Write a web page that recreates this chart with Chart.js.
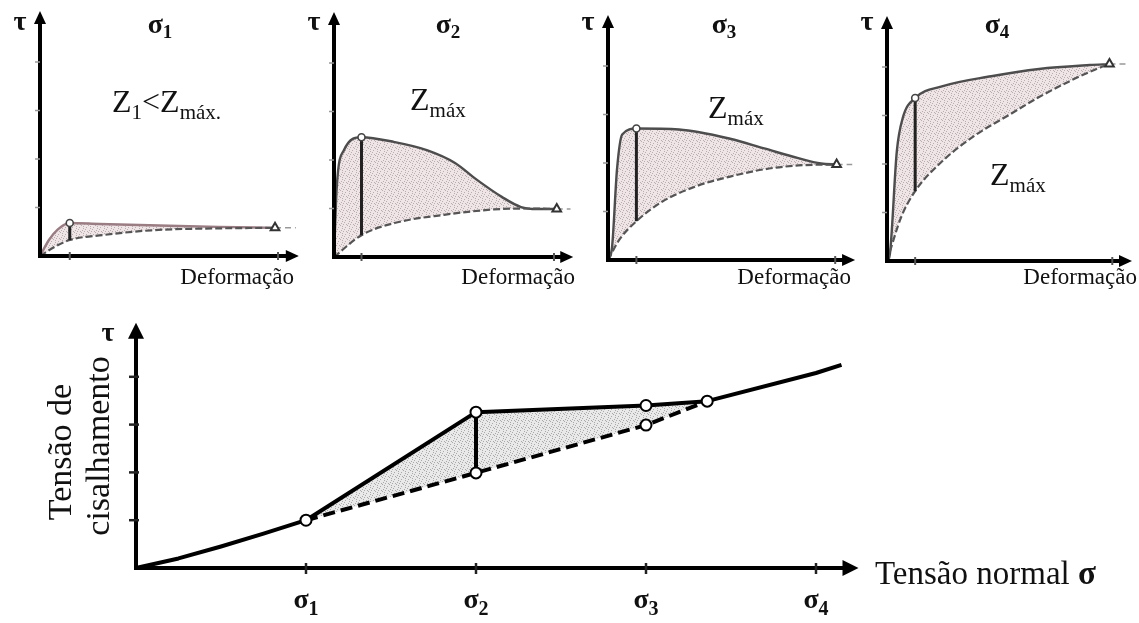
<!DOCTYPE html>
<html>
<head>
<meta charset="utf-8">
<script src="https://cdn.jsdelivr.net/npm/chart.js@4.4.1/dist/chart.umd.min.js"></script>
<style>
  html, body { margin: 0; padding: 0; background: #fff; }
  #wrap { position: relative; width: 1139px; height: 623px; overflow: hidden; background: #fff; }
  #wrap canvas { position: absolute; left: 0; top: 0; }
</style>
</head>
<body>
<div id="wrap"></div>
<script>
// ---------- data ----------
// shear-stress / deformation curves of the four tests (deformation units, τ units)
const DEF_TICKS = [1, 8];            // marked deformations: peak and large strain
const TAU_TICKS = [1, 2, 3, 4];
const PEAK_STRAIN = 1;

const S1_PEAK  = [{x:0,y:0},{x:0.3,y:0.33},{x:0.6,y:0.55},{x:1,y:0.68},{x:2,y:0.66},{x:4,y:0.63},{x:6,y:0.6},{x:7.9,y:0.58}];
const S1_RESID = [{x:0,y:0},{x:0.5,y:0.19},{x:1,y:0.33},{x:2.1,y:0.43},{x:3.75,y:0.53},{x:6,y:0.57},{x:7.9,y:0.58}];

const S2_PEAK  = [{x:0,y:0},{x:0.1,y:1.44},{x:0.36,y:2.2},{x:1,y:2.47},{x:2.2,y:2.37},{x:3.4,y:2.2},{x:4.4,y:1.94},{x:5.2,y:1.59},{x:6.1,y:1.24},{x:6.8,y:1.03},{x:7.4,y:0.99},{x:8.1,y:0.99}];
const S2_RESID = [{x:0,y:0},{x:1,y:0.45},{x:2.2,y:0.7},{x:4,y:0.87},{x:5.8,y:0.98},{x:7,y:1.0},{x:8.1,y:0.99}];

const S3_PEAK  = [{x:0,y:0},{x:0.14,y:0.25},{x:0.32,y:1.89},{x:0.5,y:2.59},{x:1,y:2.71},{x:2.5,y:2.69},{x:4.3,y:2.5},{x:5.5,y:2.3},{x:6.7,y:2.1},{x:7.5,y:1.99},{x:8.05,y:1.97}];
const S3_RESID = [{x:0,y:0},{x:0.4,y:0.42},{x:1,y:0.8},{x:1.9,y:1.2},{x:3.1,y:1.52},{x:4.3,y:1.72},{x:5.5,y:1.87},{x:6.7,y:1.95},{x:8.05,y:1.97}];

const S4_PEAK  = [{x:0,y:0},{x:0.1,y:0.14},{x:0.35,y:2.27},{x:0.56,y:2.95},{x:1,y:3.36},{x:1.95,y:3.6},{x:3.7,y:3.81},{x:5.4,y:3.96},{x:7.2,y:4.04},{x:7.9,y:4.06}];
const S4_RESID = [{x:0,y:0},{x:0.5,y:0.9},{x:1,y:1.44},{x:1.95,y:2.05},{x:3.1,y:2.58},{x:4.3,y:3.0},{x:5.4,y:3.38},{x:6.6,y:3.74},{x:7.4,y:3.95},{x:7.9,y:4.06}];

// strength envelopes (normal stress σ, shear stress τ)
const SIGMA_TICKS  = [1, 2, 3, 4];
const SIGMA_LABELS = ['σ1', 'σ2', 'σ3', 'σ4'];
const ENV_X        = [0, 0.25, 0.5, 0.75, 1, 2, 3, 3.36, 4, 4.15];
const ENV_PEAK_Y   = [0, 0.2, 0.45, 0.72, 1, 3.26, 3.40, 3.49, 4.08, 4.25];
const ENV_RESID_X  = [1, 2, 3, 3.36];
const ENV_RESID_Y  = [1, 1.99, 2.99, 3.49];

// ---------- drawing helpers ----------
const W = 1139, H = 623;
const SERIF = '"Liberation Serif","Times New Roman",serif';
const wrap = document.getElementById('wrap');

function newCanvas() {
  const cv = document.createElement('canvas');
  cv.width = W; cv.height = H;
  cv.style.width = W + 'px'; cv.style.height = H + 'px';
  wrap.appendChild(cv);
  return cv.getContext('2d');
}

function stipple(ctx, base, dot) {
  const c = document.createElement('canvas');
  c.width = 7; c.height = 7;
  const g = c.getContext('2d');
  g.fillStyle = base; g.fillRect(0, 0, 7, 7);
  g.fillStyle = dot;
  [[0,0],[4,1],[2,3],[6,4],[1,5],[5,6],[3,0],[6,2]].forEach(([px, py]) => g.fillRect(px, py, 1, 1));
  return ctx.createPattern(c, 'repeat');
}

// draws a run of text pieces: [text, font, dy]
function drawRuns(ctx, runs, x, y, align) {
  let total = 0;
  runs.forEach(r => { ctx.font = r[1]; total += ctx.measureText(r[0]).width; });
  let cx = align === 'center' ? x - total / 2 : (align === 'right' ? x - total : x);
  ctx.textAlign = 'left';
  ctx.textBaseline = 'alphabetic';
  runs.forEach(r => {
    ctx.font = r[1];
    ctx.fillText(r[0], cx, y + (r[2] || 0));
    cx += ctx.measureText(r[0]).width;
  });
}

function subLabel(label, mainFont, subFont, dy) {
  return [[label.charAt(0), mainFont, 0], [label.slice(1), subFont, dy]];
}

function axesPlugin(cfg) {
  return {
    id: 'arrowAxes',
    afterDatasetsDraw(chart) {
      const { ctx, chartArea: a, scales: { x, y } } = chart;
      ctx.save();
      ctx.strokeStyle = '#000';
      ctx.fillStyle = '#000';
      ctx.lineWidth = cfg.width;
      ctx.lineJoin = 'miter';
      ctx.lineCap = 'square';
      ctx.beginPath();
      ctx.moveTo(a.left, a.top + cfg.head - 1);
      ctx.lineTo(a.left, a.bottom);
      ctx.lineTo(a.right - cfg.head + 1, a.bottom);
      ctx.stroke();
      // arrowheads
      ctx.beginPath();
      ctx.moveTo(a.left, a.top);
      ctx.lineTo(a.left - cfg.half, a.top + cfg.head);
      ctx.lineTo(a.left + cfg.half, a.top + cfg.head);
      ctx.closePath();
      ctx.fill();
      ctx.beginPath();
      ctx.moveTo(a.right, a.bottom);
      ctx.lineTo(a.right - cfg.head, a.bottom - cfg.half);
      ctx.lineTo(a.right - cfg.head, a.bottom + cfg.half);
      ctx.closePath();
      ctx.fill();
      // tick marks
      ctx.lineCap = 'butt';
      ctx.strokeStyle = cfg.xTickColor;
      ctx.lineWidth = cfg.xTickWidth;
      cfg.xTicks.forEach(v => {
        const px = x.getPixelForValue(v);
        ctx.beginPath();
        ctx.moveTo(px, a.bottom - cfg.xTickUp);
        ctx.lineTo(px, a.bottom + cfg.xTickDown);
        ctx.stroke();
      });
      ctx.strokeStyle = cfg.yTickColor;
      ctx.lineWidth = cfg.yTickWidth;
      cfg.yTicks.forEach(v => {
        const py = y.getPixelForValue(v);
        ctx.beginPath();
        ctx.moveTo(a.left - cfg.yTickLeft, py);
        ctx.lineTo(a.left + cfg.yTickRight, py);
        ctx.stroke();
      });
      ctx.restore();
    }
  };
}

function textPlugin(draw) {
  return { id: 'texts', afterDraw(chart) { const c = chart.ctx; c.save(); c.fillStyle = '#111'; draw(c, chart); c.restore(); } };
}

function baseOptions(area) {
  return {
    responsive: false,
    animation: false,
    devicePixelRatio: 1,
    events: [],
    layout: { padding: { left: area.left, right: W - area.right, top: area.top, bottom: H - area.bottom } },
    scales: {
      x: { type: 'linear', display: false, min: 0, max: area.xMax },
      y: { type: 'linear', display: false, min: 0, max: area.yMax }
    },
    plugins: { legend: { display: false }, tooltip: { enabled: false } },
    elements: { line: { capBezierPoints: true } }
  };
}

// ---------- four shear-stress / deformation panels ----------
const TOP_X_MAX = 8.7, TOP_Y_MAX = 5.05, TOP_UNIT_Y = 48.5;
const PANELS = [
  { axisX: 40,  originY: 256, unitX: 29.75, titleX: 160, zX: 112, zY: 112, defRight: 294,
    z: [['Z',0],['1',1],['<',0],['Z',0],['máx.',1]], sigma: 'σ1', peak: S1_PEAK, resid: S1_RESID, upper: '#9a7c83' },
  { axisX: 334, originY: 257, unitX: 27.5,  titleX: 448, zX: 410, zY: 110, defRight: 575,
    z: [['Z',0],['máx',1]], sigma: 'σ2', peak: S2_PEAK, resid: S2_RESID, upper: '#4d4d4d' },
  { axisX: 608, originY: 260, unitX: 28.4,  titleX: 724, zX: 708, zY: 118, defRight: 851,
    z: [['Z',0],['máx',1]], sigma: 'σ3', peak: S3_PEAK, resid: S3_RESID, upper: '#4d4d4d' },
  { axisX: 887, originY: 261, unitX: 28.75, titleX: 997, zX: 990, zY: 185, defRight: 1137,
    z: [['Z',0],['máx',1]], sigma: 'σ4', peak: S4_PEAK, resid: S4_RESID, upper: '#4d4d4d' }
];

PANELS.forEach(p => {
  const area = {
    left: p.axisX,
    right: p.axisX + TOP_X_MAX * p.unitX,
    bottom: p.originY,
    top: p.originY - TOP_Y_MAX * TOP_UNIT_Y,
    xMax: TOP_X_MAX, yMax: TOP_Y_MAX
  };
  const ctx = newCanvas();
  const pattern = stipple(ctx, '#efe5e7', '#b9adb0');
  const pk = p.peak.find(d => d.x === PEAK_STRAIN);
  const rs = p.resid.find(d => d.x === PEAK_STRAIN);
  const end = p.peak[p.peak.length - 1];

  const datasets = [
    { data: p.peak, borderColor: p.upper, borderWidth: 2.4, fill: '+1', backgroundColor: pattern,
      cubicInterpolationMode: 'monotone', pointRadius: 0, order: 4, clip: false },
    { data: p.resid, borderColor: '#555', borderWidth: 2.2, borderDash: [7, 3], fill: false,
      cubicInterpolationMode: 'monotone', pointRadius: 0, order: 3, clip: false },
    { data: [end, { x: 8.6, y: end.y }], borderColor: '#999', borderWidth: 1.5, borderDash: [6, 4],
      fill: false, pointRadius: 0, order: 5, clip: false },
    { data: [rs, pk], borderColor: '#222', borderWidth: 3, fill: false, pointRadius: 0, order: 2, clip: false },
    { data: [pk], showLine: false, pointRadius: 3.5, pointBackgroundColor: '#fff', pointBorderColor: '#444',
      pointBorderWidth: 1.6, order: 1, clip: false },
    { data: [end], showLine: false, pointStyle: 'triangle', pointRadius: 5, pointBackgroundColor: '#fff',
      pointBorderColor: '#333', pointBorderWidth: 2, order: 0, clip: false }
  ];

  const axes = axesPlugin({
    width: 4, head: 13, half: 6,
    xTicks: DEF_TICKS, xTickUp: 4, xTickDown: 4, xTickColor: '#555', xTickWidth: 2,
    yTicks: TAU_TICKS, yTickLeft: 5, yTickRight: 0, yTickColor: '#999', yTickWidth: 1.5
  });

  const texts = textPlugin((c) => {
    drawRuns(c, [['τ', 'bold 28px ' + SERIF, 0]], p.axisX - 20, 30, 'center');
    drawRuns(c, subLabel(p.sigma, 'bold 28px ' + SERIF, 'bold 19px ' + SERIF, 5), p.titleX, 33, 'center');
    c.font = '23px ' + SERIF;
    c.textAlign = 'right';
    c.textBaseline = 'alphabetic';
    c.fillText('Deformação', p.defRight, 284);
    const runs = p.z.map(r => r[1] ? [r[0], '21px ' + SERIF, 7] : [r[0], '32px ' + SERIF, 0]);
    drawRuns(c, runs, p.zX, p.zY, 'left');
  });

  new Chart(ctx, { type: 'line', data: { datasets }, options: baseOptions(area), plugins: [axes, texts] });
});

// ---------- strength envelope panel ----------
(function () {
  const unitX = 170, unitY = 47.8, xMax = 4.25, yMax = 5.13;
  const area = { left: 136, bottom: 568, right: 136 + xMax * unitX, top: 568 - yMax * unitY, xMax, yMax };
  const ctx = newCanvas();
  const pattern = stipple(ctx, '#e9e9e9', '#a9a9a9');

  const envPeak  = ENV_X.map((x, i) => ({ x, y: ENV_PEAK_Y[i] }));
  const envResid = ENV_RESID_X.map((x, i) => ({ x, y: ENV_RESID_Y[i] }));
  const xFrom = ENV_RESID_X[0], xTo = ENV_RESID_X[ENV_RESID_X.length - 1];
  const band = envPeak.filter(d => d.x >= xFrom && d.x <= xTo);
  const s2 = SIGMA_TICKS[1];
  const s2Peak = envPeak.find(d => d.x === s2), s2Res = envResid.find(d => d.x === s2);
  const marked = [
    envPeak.find(d => d.x === SIGMA_TICKS[0]),
    s2Peak, s2Res,
    envPeak.find(d => d.x === SIGMA_TICKS[2]), envResid.find(d => d.x === SIGMA_TICKS[2]),
    envResid[envResid.length - 1]
  ];

  const datasets = [
    { data: envPeak, borderColor: '#000', borderWidth: 4, fill: false, tension: 0, pointRadius: 0,
      order: 2, clip: false, borderJoinStyle: 'round' },
    { data: band, borderWidth: 0, borderColor: 'rgba(0,0,0,0)', fill: '+1', backgroundColor: pattern,
      tension: 0, pointRadius: 0, order: 6, clip: false },
    { data: envResid, borderColor: '#000', borderWidth: 4, borderDash: [12, 6], fill: false, tension: 0,
      pointRadius: 0, order: 3, clip: false },
    { data: [s2Res, s2Peak], borderColor: '#000', borderWidth: 4, fill: false, pointRadius: 0, order: 1, clip: false },
    { data: marked, showLine: false, pointRadius: 5.5, pointBackgroundColor: '#fff', pointBorderColor: '#000',
      pointBorderWidth: 2, order: 0, clip: false }
  ];

  const axes = axesPlugin({
    width: 4, head: 16, half: 8,
    xTicks: SIGMA_TICKS, xTickUp: 5, xTickDown: 6, xTickColor: '#222', xTickWidth: 2.5,
    yTicks: TAU_TICKS, yTickLeft: 7, yTickRight: 3, yTickColor: '#222', yTickWidth: 2.5
  });

  const texts = textPlugin((c, chart) => {
    const x = chart.scales.x;
    SIGMA_TICKS.forEach((v, i) => {
      drawRuns(c, subLabel(SIGMA_LABELS[i], 'bold 28px ' + SERIF, 'bold 20px ' + SERIF, 7), x.getPixelForValue(v), 608, 'center');
    });
    drawRuns(c, [['τ', 'bold 28px ' + SERIF, 0]], 108, 341, 'center');
    drawRuns(c, [['Tensão normal ', '33px ' + SERIF, 0], ['σ', 'bold 33px ' + SERIF, 0]], 875, 584, 'left');
    c.save();
    c.font = '34px ' + SERIF;
    c.textAlign = 'center';
    c.textBaseline = 'middle';
    c.translate(62, 452); c.rotate(-Math.PI / 2); c.fillText('Tensão de', 0, 0);
    c.restore();
    c.save();
    c.font = '34px ' + SERIF;
    c.textAlign = 'center';
    c.textBaseline = 'middle';
    c.translate(100, 446); c.rotate(-Math.PI / 2); c.fillText('cisalhamento', 0, 0);
    c.restore();
  });

  new Chart(ctx, { type: 'line', data: { datasets }, options: baseOptions(area), plugins: [axes, texts] });
})();
</script>
</body>
</html>
